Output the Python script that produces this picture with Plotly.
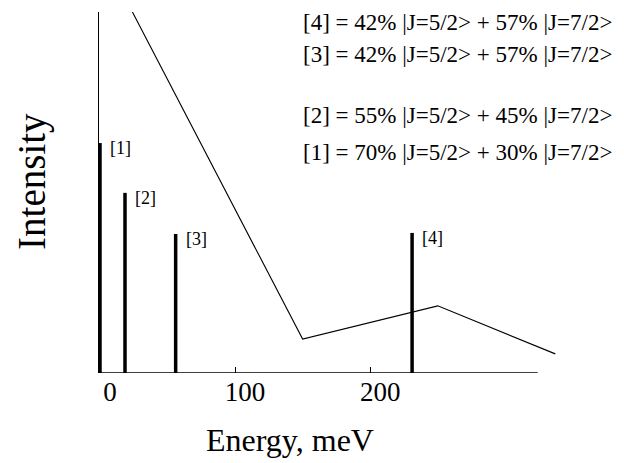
import plotly.graph_objects as go

# Transition energies (meV) and intensities of the crystal-field peaks
peak_labels = ["[1]", "[2]", "[3]", "[4]"]
peak_energy = [0, 18.5, 56, 231]
peak_intensity = [63.7, 49.9, 38.5, 38.8]

# Broad envelope curve
curve_energy = [24, 150, 250, 337]
curve_intensity = [100, 9.4, 18.6, 5.3]

# Composition texts
compositions = [
    "[4] = 42% |J=5/2> + 57% |J=7/2>",
    "[3] = 42% |J=5/2> + 57% |J=7/2>",
    "[2] = 55% |J=5/2> + 45% |J=7/2>",
    "[1] = 70% |J=5/2> + 30% |J=7/2>",
]
comp_y = [0.970, 0.881, 0.712, 0.612]

x_ticks = [0, 100, 200]
x_tick_text = ["0", "100", "200"]

FONT = "Liberation Serif"

fig = go.Figure()

bx, by = [], []
for e, h in zip(peak_energy, peak_intensity):
    bx += [e, e, None]
    by += [0, h, None]
fig.add_trace(go.Scatter(x=bx, y=by, mode="lines",
                         line=dict(color="black", width=3.5),
                         hoverinfo="skip", showlegend=False))

fig.add_trace(go.Scatter(x=curve_energy, y=curve_intensity, mode="lines",
                         line=dict(color="black", width=1.1),
                         showlegend=False))

# x axis baseline (shorter than plot area)
fig.add_shape(type="line", xref="x", yref="y", x0=-0.74, x1=324, y0=0, y1=0,
              line=dict(color="black", width=1.5))

for lab, e, h in zip(peak_labels, peak_energy, peak_intensity):
    fig.add_annotation(x=e, y=h, xref="x", yref="y", text=lab, showarrow=False,
                       xanchor="left", yanchor="middle", xshift=8, yshift=-5,
                       font=dict(family=FONT, size=18, color="black"))

for t, yy in zip(compositions, comp_y):
    fig.add_annotation(x=0.440, y=yy, xref="paper", yref="paper", text=t,
                       showarrow=False, xanchor="left", yanchor="middle",
                       font=dict(family=FONT, size=23, color="black"))

fig.add_annotation(x=-0.146, y=0.532, xref="paper", yref="paper", text="Intensity",
                   textangle=-90, showarrow=False, xanchor="center", yanchor="middle",
                   font=dict(family=FONT, size=39, color="black"))
fig.add_annotation(x=0.416, y=-0.186, xref="paper", yref="paper", text="Energy, meV",
                   showarrow=False, xanchor="center", yanchor="middle",
                   font=dict(family=FONT, size=32, color="black"))

fig.update_layout(
    width=616, height=455,
    margin=dict(l=91, r=66, t=4, b=90),
    paper_bgcolor="white", plot_bgcolor="white",
    xaxis=dict(range=[-0.74, 339], tickvals=x_ticks, ticktext=x_tick_text,
               showgrid=False, zeroline=False, showline=False,
               ticks="inside", ticklen=6, tickcolor="black", tickwidth=1,
               ticklabelshift=10,
               tickfont=dict(family=FONT, size=27, color="black")),
    yaxis=dict(range=[0, 100], showgrid=False, zeroline=False, showline=True,
               linecolor="black", linewidth=1, showticklabels=False, ticks=""),
)

fig.write_html("out.html")
